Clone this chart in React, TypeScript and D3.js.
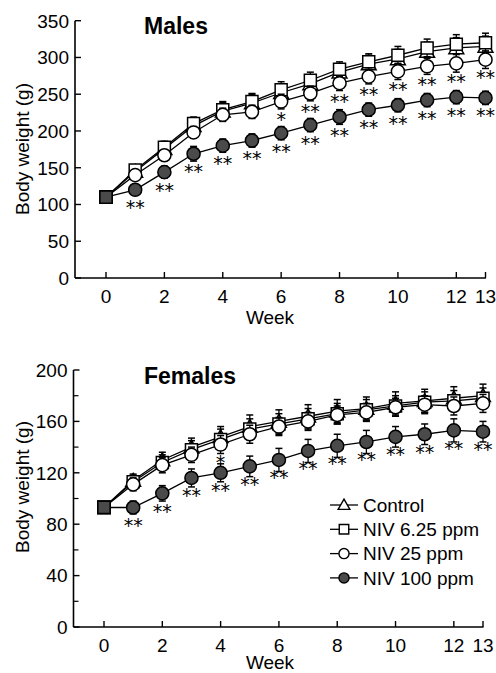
import React from 'react';
import * as d3 from 'd3';

const weeks = [0, 1, 2, 3, 4, 5, 6, 7, 8, 9, 10, 11, 12, 13];
const seriesNames = ['Control', 'NIV 6.25 ppm', 'NIV 25 ppm', 'NIV 100 ppm'];

const maleControl = [110, 145, 176, 207, 227, 238, 252, 264, 280, 291, 298, 308, 313, 315];
const male625 = [110, 147, 178, 210, 229, 240, 256, 269, 284, 294, 303, 313, 318, 320];
const male25 = [110, 140, 167, 198, 222, 226, 240, 251, 265, 274, 281, 288, 292, 297];
const male100 = [110, 120, 144, 169, 180, 187, 197, 208, 219, 229, 235, 242, 246, 245];
const maleControlSd = [0, 6, 8, 10, 12, 12, 12, 12, 11, 12, 13, 13, 14, 14];
const male625Sd = [0, 6, 8, 9, 11, 11, 11, 11, 10, 11, 12, 12, 13, 13];
const male25Sd = [0, 6, 7, 8, 9, 9, 10, 10, 10, 10, 11, 11, 12, 12];
const male100Sd = [0, 6, 8, 10, 9, 9, 9, 9, 10, 9, 9, 9, 9, 9];
const male25Sig = ['', '', '', '', '', '', '*', '**', '**', '**', '**', '**', '**', '**'];
const male100Sig = ['', '**', '**', '**', '**', '**', '**', '**', '**', '**', '**', '**', '**', '**'];

const femaleControl = [93, 114, 130, 140, 148, 156, 160, 164, 168, 170, 174, 176, 178, 180];
const female625 = [93, 113, 128, 138, 146, 154, 158, 162, 166, 169, 172, 175, 176, 178];
const female25 = [93, 111, 126, 134, 142, 150, 156, 160, 165, 167, 171, 173, 172, 174];
const female100 = [93, 93, 104, 116, 120, 125, 130, 137, 141, 144, 148, 150, 153, 152];
const femaleControlSd = [0, 5, 6, 7, 8, 9, 9, 9, 9, 9, 9, 9, 9, 9];
const female625Sd = [0, 5, 6, 7, 8, 8, 8, 8, 8, 8, 8, 8, 8, 8];
const female25Sd = [0, 5, 6, 6, 7, 7, 7, 7, 7, 7, 7, 7, 7, 7];
const female100Sd = [0, 5, 6, 7, 7, 8, 9, 9, 9, 9, 8, 8, 9, 8];
const female25Sig = ['', '', '', '', '*', '', '', '', '', '', '', '', '', ''];
const female100Sig = ['', '**', '**', '**', '**', '**', '**', '**', '**', '**', '**', '**', '**', '**'];

const xTicks = [0, 2, 4, 6, 8, 10, 12, 13];
const maleYTicks = [0, 50, 100, 150, 200, 250, 300, 350];
const femaleYTicks = [0, 40, 80, 120, 160, 200];
const femaleYMinor = [20, 60, 100, 140, 180];

const FONT = '"Liberation Sans", Arial, Helvetica, sans-serif';
const ASTFONT = '"DejaVu Sans", sans-serif';
const symbolTypes = [d3.symbolTriangle, d3.symbolSquare, d3.symbolCircle, d3.symbolCircle];
const symbolSizes = [95, 144, 135, 135];
const fills = ['#fff', '#fff', '#fff', '#4a4a4a'];

type Panel = {
  title: string;
  series: number[][];
  sds: number[][];
  sig: (string[] | null)[];
  yMax: number;
  yTicks: number[];
  yMinor: number[];
  yTop: number;
  yBottom: number;
  xLeft: number;
  x0: number;
  x13: number;
  titleY: number;
  labelY: number;
  weekDy: number;
  legend: boolean;
};

const panels: Panel[] = [
  {
    title: 'Males',
    series: [maleControl, male625, male25, male100],
    sds: [maleControlSd, male625Sd, male25Sd, male100Sd],
    sig: [null, null, male25Sig, male100Sig],
    yMax: 350,
    yTicks: maleYTicks,
    yMinor: [],
    yTop: 20.7,
    yBottom: 278,
    xLeft: 75,
    x0: 106,
    x13: 485.5,
    titleY: 34,
    labelY: 149,
    weekDy: 45.5,
    legend: false,
  },
  {
    title: 'Females',
    series: [femaleControl, female625, female25, female100],
    sds: [femaleControlSd, female625Sd, female25Sd, female100Sd],
    sig: [null, null, female25Sig, female100Sig],
    yMax: 200,
    yTicks: femaleYTicks,
    yMinor: femaleYMinor,
    yTop: 370,
    yBottom: 627,
    xLeft: 73.5,
    x0: 104,
    x13: 483,
    titleY: 384,
    labelY: 487,
    weekDy: 41.5,
    legend: true,
  },
];

function PanelView({ p }: { p: Panel }) {
  const x = d3.scaleLinear().domain([0, 13]).range([p.x0, p.x13]);
  const y = d3.scaleLinear().domain([0, p.yMax]).range([p.yBottom, p.yTop]);
  const line = d3
    .line<number>()
    .x((_, i) => x(weeks[i]))
    .y((d) => y(d));
  const xEnd = x(13) + 0.5;
  return (
    <g>
      <line x1={p.xLeft} x2={p.xLeft} y1={y(p.yMax)} y2={y(0)} stroke="#000" strokeWidth={1.6} />
      <line x1={p.xLeft} x2={xEnd} y1={y(0)} y2={y(0)} stroke="#000" strokeWidth={1.6} />
      {p.yTicks.map((t) => (
        <g key={'yt' + t}>
          <line x1={p.xLeft} x2={p.xLeft + 6} y1={y(t)} y2={y(t)} stroke="#000" strokeWidth={1.4} />
          <text x={p.xLeft - 6} y={y(t)} dy="0.36em" textAnchor="end" fontSize={19} fontFamily={FONT}>
            {t}
          </text>
        </g>
      ))}
      {p.yMinor.map((t) => (
        <line key={'ym' + t} x1={p.xLeft} x2={p.xLeft + 5} y1={y(t)} y2={y(t)} stroke="#000" strokeWidth={1.2} />
      ))}
      {xTicks.map((t) => (
        <g key={'xt' + t}>
          <line x1={x(t)} x2={x(t)} y1={y(0)} y2={y(0) - 6} stroke="#000" strokeWidth={1.4} />
          <text x={x(t)} y={y(0) + 24.5} textAnchor="middle" fontSize={19} fontFamily={FONT}>
            {t}
          </text>
        </g>
      ))}
      <text x={270} y={y(0) + p.weekDy} textAnchor="middle" fontSize={19} fontFamily={FONT}>
        Week
      </text>
      <text
        transform={`translate(29,${p.labelY}) rotate(-90)`}
        textAnchor="middle"
        fontSize={19}
        fontFamily={FONT}
      >
        Body weight (g)
      </text>
      <text x={144} y={p.titleY} fontSize={23} fontWeight="bold" fontFamily={FONT}>
        {p.title}
      </text>
      {p.series.map((vals, si) => (
        <g key={'s' + si}>
          <path d={line(vals) || ''} fill="none" stroke="#000" strokeWidth={1.3} />
        </g>
      ))}
      {p.series.map((vals, si) => (
        <g key={'m' + si}>
          {vals.map((v, i) => {
            const sd = p.sds[si][i];
            const cx = x(weeks[i]);
            if (sd <= 0) return null;
            return (
              <g key={'e' + i}>
                <line x1={cx} x2={cx} y1={y(v + sd)} y2={y(v - sd)} stroke="#000" strokeWidth={1.3} />
                <line x1={cx - 3.5} x2={cx + 3.5} y1={y(v + sd)} y2={y(v + sd)} stroke="#000" strokeWidth={1.5} />
                <line x1={cx - 3.5} x2={cx + 3.5} y1={y(v - sd)} y2={y(v - sd)} stroke="#000" strokeWidth={1.5} />
              </g>
            );
          })}
          {vals.map((v, i) => {
            const isStart = i === 0;
            const type = isStart ? d3.symbolSquare : symbolTypes[si];
            const size = isStart ? 150 : symbolSizes[si];
            const fill = isStart ? '#4a4a4a' : fills[si];
            const dy = type === d3.symbolTriangle ? 1.5 : 0;
            return (
              <path
                key={'p' + i}
                d={d3.symbol().type(type).size(size)() || ''}
                transform={`translate(${x(weeks[i])},${y(v) + dy})`}
                fill={fill}
                stroke="#000"
                strokeWidth={1.5}
              />
            );
          })}
          {p.sig[si] &&
            vals.map((v, i) => {
              const s = (p.sig[si] as string[])[i];
              if (!s) return null;
              return (
                <text
                  key={'a' + i}
                  x={x(weeks[i])}
                  y={y(v) + 24.5}
                  textAnchor="middle"
                  fontSize={19}
                  fontFamily={ASTFONT}
                  fill="#000"
                >
                  {s}
                </text>
              );
            })}
        </g>
      ))}
      {p.legend &&
        seriesNames.map((name, si) => {
          const cy = 505 + si * 24.3;
          const lsizes = [60, 90, 80, 80];
          return (
            <g key={'l' + si}>
              <line x1={330} x2={358} y1={cy} y2={cy} stroke="#000" strokeWidth={1.3} />
              <path
                d={d3.symbol().type(symbolTypes[si]).size(lsizes[si])() || ''}
                transform={`translate(344,${cy + (si === 0 ? 1 : 0)})`}
                fill={fills[si]}
                stroke="#000"
                strokeWidth={1.4}
              />
              <text x={363} y={cy} dy="0.36em" fontSize={19} fontFamily={FONT}>
                {name}
              </text>
            </g>
          );
        })}
    </g>
  );
}

export default function App() {
  return (
    <svg
      width={496}
      height={673}
      viewBox="0 0 496 673"
      style={{ position: 'absolute', left: 0, top: 0, background: '#fff' }}
    >
      <rect x={0} y={0} width={496} height={673} fill="#fff" />
      {panels.map((p) => (
        <PanelView key={p.title} p={p} />
      ))}
    </svg>
  );
}
